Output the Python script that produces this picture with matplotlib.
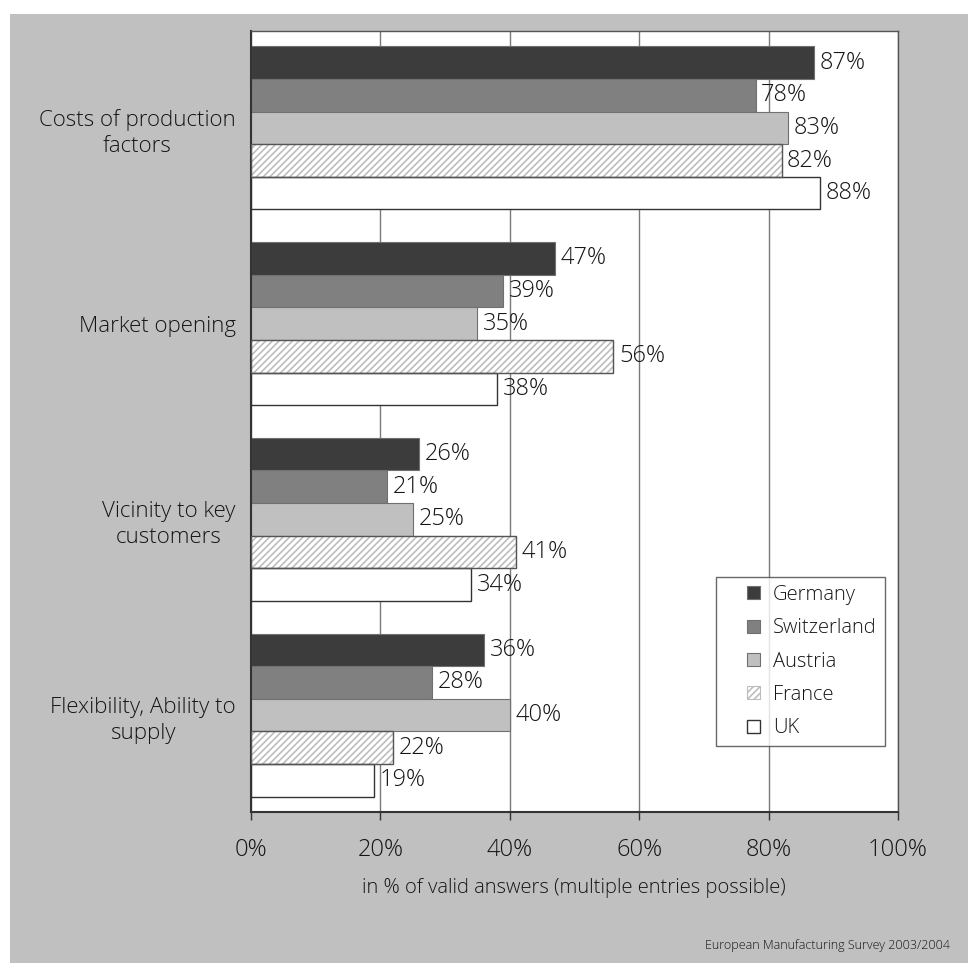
import numpy as np
import matplotlib.pyplot as plt
from matplotlib.patches import Rectangle
from matplotlib.container import BarContainer
from matplotlib.legend_handler import HandlerPatch, update_from_first_child

categories = ['Costs of production\nfactors', 'Market opening',
              'Vicinity to key\ncustomers', 'Flexibility, Ability to\nsupply']
countries = ['Germany', 'Switzerland', 'Austria', 'France', 'UK']
germany = [87, 47, 26, 36]
switzerland = [78, 39, 21, 28]
austria = [83, 35, 25, 40]
france = [82, 56, 41, 22]
uk = [88, 38, 34, 19]
values = [germany, switzerland, austria, france, uk]
xticks = [0, 20, 40, 60, 80, 100]

plt.rcParams['font.family'] = ['Open Sans', 'DejaVu Sans']
plt.rcParams['font.weight'] = 'light'
plt.rcParams['hatch.linewidth'] = 1.2
plt.rcParams['hatch.color'] = '#cfcfcf'
txt = '#151515'

fig = plt.figure(figsize=(9.68, 9.63), dpi=100)
fig.patches.append(Rectangle((10 / 968, 0), 1, 1 - 14 / 963, transform=fig.transFigure,
                             facecolor='#c0c0c0', edgecolor='none', zorder=-10))
ax = fig.add_axes([251 / 968, 1 - 812 / 963, 647 / 968, 781 / 963])
ax.set_facecolor('white')

h = 1.0
centers = np.arange(len(categories)) * 6
fills = ['#3c3c3c', '#808080', '#c0c0c0', 'white', 'white']
for i, (name, vals) in enumerate(zip(countries, values)):
    y = centers + (i - 2) * h
    if name == 'France':
        ax.barh(y, vals, height=h, color='white', edgecolor='#bdbdbd',
                hatch='/////', linewidth=0.8, label=name, zorder=2)
        ax.barh(y, vals, height=h, fill=False, edgecolor='#555555', linewidth=1.0, zorder=3)
    elif name == 'UK':
        ax.barh(y, vals, height=h, color='white', edgecolor='#333333',
                linewidth=1.0, label=name, zorder=2)
    else:
        ax.barh(y, vals, height=h, color=fills[i], edgecolor='#707070',
                linewidth=0.8, label=name, zorder=2)
    for yy, v in zip(y, vals):
        ax.annotate(f'{v}%', (v, yy), xytext=(4, 0), textcoords='offset points',
                    va='center', ha='left', fontsize=17, color=txt, zorder=4)

ax.set_xlim(0, 100)
ax.set_ylim(centers[-1] + 2.5 + 0.47, centers[0] - 2.5 - 0.47)
ax.set_xticks(xticks)
ax.set_xticklabels([f'{t}%' for t in xticks], fontsize=17, color=txt)
ax.set_yticks(centers)
ax.set_yticklabels(categories, fontsize=16, color=txt)
for t in ax.get_yticklabels():
    t.set_multialignment('center')
    t.set_linespacing(1.35)
ax.tick_params(axis='y', length=0, pad=11)
ax.tick_params(axis='x', length=6, width=1, color='#333333', pad=13, direction='out')
ax.xaxis.grid(True, color='#7a7a7a', linewidth=1)
ax.set_axisbelow(True)
for s in ['left', 'bottom']:
    ax.spines[s].set_color('#333333')
    ax.spines[s].set_linewidth(1.5)
for s in ['top', 'right']:
    ax.spines[s].set_color('#555555')
    ax.spines[s].set_linewidth(1.0)


def small_square(legend, orig_handle, xdescent, ydescent, width, height, fontsize):
    s = 9.4
    return Rectangle((-xdescent + width - s, -ydescent + (height - s) / 2), s, s)


leg = ax.legend(loc='upper left', bbox_to_anchor=(0.719, 0.301), fontsize=14.5,
                frameon=True, fancybox=False, edgecolor='#444444', handlelength=1.8,
                handleheight=0.7, handletextpad=0.62, labelspacing=0.66, borderpad=0.4,
                borderaxespad=0,
                handler_map={BarContainer: HandlerPatch(patch_func=small_square,
                                                        update_func=update_from_first_child)})
leg.get_frame().set_linewidth(1.0)
for t in leg.get_texts():
    t.set_color(txt)

fig.text(574 / 968, 1 - 888 / 963, 'in % of valid answers (multiple entries possible)',
         ha='center', va='center', fontsize=14.5, color=txt)
fig.text(950 / 968, 1 - 945 / 963, 'European Manufacturing Survey 2003/2004',
         ha='right', va='center', fontsize=9, color=txt)

fig.savefig('out.png', dpi=100, facecolor='white')
